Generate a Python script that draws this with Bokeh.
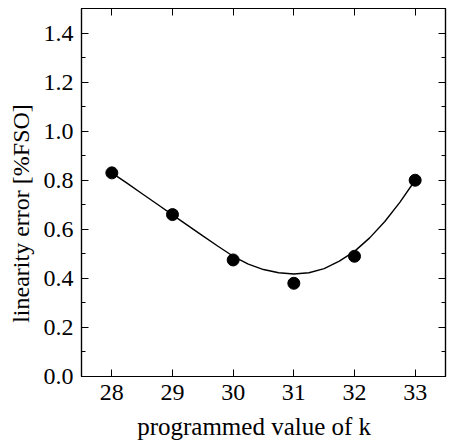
from bokeh.plotting import figure
from bokeh.models import (Range1d, LinearAxis, FixedTicker, SingleIntervalTicker,
                          PrintfTickFormatter, CustomLabelingPolicy)
from bokeh.embed import file_html
from bokeh.resources import INLINE

# measured points
k_values = [28, 29, 30, 31, 32, 33]
lin_error = [0.83, 0.66, 0.475, 0.38, 0.49, 0.80]

# fitted curve
curve_k = [28.0, 28.25, 28.5, 28.75, 29.0, 29.25, 29.5, 29.75, 30.0, 30.25, 30.5,
           30.75, 31.0, 31.25, 31.5, 31.75, 32.0, 32.25, 32.5, 32.75, 33.0]
curve_err = [0.830, 0.788, 0.745, 0.702, 0.659, 0.616, 0.573, 0.531, 0.490, 0.458, 0.436,
             0.423, 0.418, 0.423, 0.440, 0.470, 0.510, 0.565, 0.632, 0.711, 0.800]

x_ticks = [28, 29, 30, 31, 32, 33]

FONT = "Liberation Serif"
NBSP = "\u00a0"

p = figure(width=449, height=442, output_backend="svg", toolbar_location=None,
           x_range=Range1d(27.5, 33.5), y_range=Range1d(0, 1.5),
           min_border_left=81, min_border_right=0, min_border_top=8, min_border_bottom=64)
p.background_fill_color = "white"
p.border_fill_color = "white"
p.outline_line_color = "black"
p.outline_line_width = 1.2
p.grid.visible = False

def style_axis(ax, show_labels):
    ax.axis_line_color = "black"
    ax.axis_line_width = 1.2
    ax.major_tick_in = 7
    ax.major_tick_out = 0
    ax.minor_tick_in = 4
    ax.minor_tick_out = 0
    ax.major_tick_line_color = "black"
    ax.minor_tick_line_color = "black"
    ax.major_label_text_font = FONT
    ax.major_label_text_color = "black"
    if show_labels:
        ax.major_label_text_font_size = "24px"
        ax.major_label_standoff = 8
    else:
        ax.major_label_text_font_size = "1px"
        ax.major_label_policy = CustomLabelingPolicy(code="")
        ax.major_label_standoff = 0

p.xaxis.ticker = FixedTicker(ticks=x_ticks, minor_ticks=[])
p.yaxis.ticker = SingleIntervalTicker(interval=0.2, num_minor_ticks=2)
p.yaxis.formatter = PrintfTickFormatter(format="%.1f")
style_axis(p.xaxis[0], True)
style_axis(p.yaxis[0], True)
p.xaxis.minor_tick_line_color = None

p.xaxis.axis_label = "programmed value of k" + NBSP * 3
p.xaxis.axis_label_text_font = FONT
p.xaxis.axis_label_text_font_size = "25px"
p.xaxis.axis_label_text_font_style = "normal"
p.xaxis.axis_label_text_color = "black"
p.xaxis.axis_label_standoff = 10

p.yaxis.axis_label = "linearity error [%FSO]" + NBSP * 7
p.yaxis.axis_label_text_font = FONT
p.yaxis.axis_label_text_font_size = "24px"
p.yaxis.axis_label_text_font_style = "normal"
p.yaxis.axis_label_text_color = "black"
p.yaxis.axis_label_standoff = 7

top = LinearAxis(ticker=FixedTicker(ticks=x_ticks, minor_ticks=[]))
style_axis(top, False)
top.minor_tick_line_color = None
p.add_layout(top, "above")
right = LinearAxis(ticker=SingleIntervalTicker(interval=0.2, num_minor_ticks=2))
style_axis(right, False)
p.add_layout(right, "right")

p.line(curve_k, curve_err, line_color="black", line_width=1.4)
p.scatter(k_values, lin_error, size=12, marker="circle",
          fill_color="black", line_color="black")

open("out.html", "w").write(file_html(p, INLINE))
